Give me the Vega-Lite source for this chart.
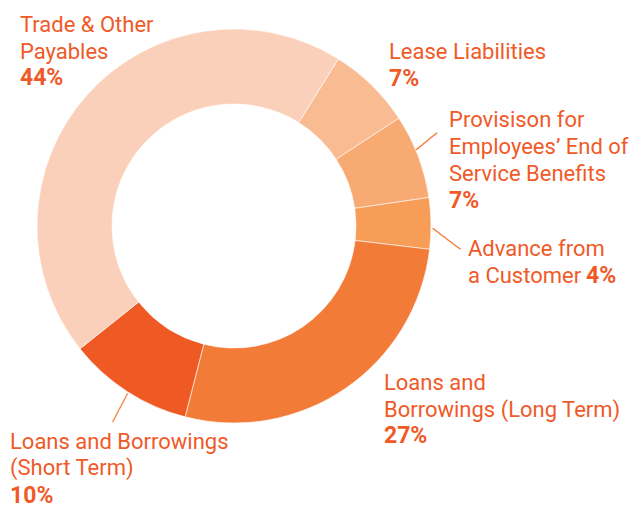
{
  "$schema": "https://vega.github.io/schema/vega-lite/v6.json",
  "width": 468,
  "height": 452,
  "autosize": {"type": "none"},
  "padding": {"left": 0, "top": 0, "right": 163, "bottom": 56},
  "background": "#ffffff",
  "view": {"stroke": null},
  "data": {
    "values": [
      {"order": 1, "category": "Lease", "label": "Lease Liabilities", "pct": "7%", "value": 6.9},
      {"order": 2, "category": "Provision", "label": "Provisison for\nEmployees’ End of\nService Benefits", "pct": "7%", "value": 6.9},
      {"order": 3, "category": "Advance", "label": "Advance from\na Customer", "pct": "4%", "value": 4.2},
      {"order": 4, "category": "LongTerm", "label": "Loans and\nBorrowings (Long Term)", "pct": "27%", "value": 27.1},
      {"order": 5, "category": "ShortTerm", "label": "Loans and Borrowings\n(Short Term)", "pct": "10%", "value": 10.3},
      {"order": 6, "category": "Trade", "label": "Trade & Other\nPayables", "pct": "44%", "value": 44.6}
    ]
  },
  "encoding": {
    "theta": {"field": "value", "type": "quantitative", "stack": true, "scale": {"range": [0.5585, 6.8417]}},
    "order": {"field": "order", "type": "quantitative"}
  },
  "layer": [
    {
      "mark": {"type": "arc", "innerRadius": 122, "outerRadius": 197, "stroke": "#ffffff", "strokeWidth": 0.6},
      "encoding": {
        "color": {
          "field": "category", "type": "nominal", "legend": null,
          "scale": {
            "domain": ["Lease", "Provision", "Advance", "LongTerm", "ShortTerm", "Trade"],
            "range": ["#F9BB91", "#F8AA73", "#F79D57", "#F37B38", "#EF5A24", "#FBD0BA"]
          }
        }
      }
    },
    {
      "mark": {"type": "text", "radius": 197, "align": "center", "baseline": "middle", "font": "DejaVu Sans Mono", "fontSize": 15, "angle": 321, "dx": 15.7, "dy": -6.2, "color": "#F37B38"},
      "encoding": {"text": {"condition": {"test": "datum.category === 'Provision'", "value": "───"}, "value": ""}}
    },
    {
      "mark": {"type": "text", "radius": 197, "align": "center", "baseline": "middle", "font": "DejaVu Sans Mono", "fontSize": 14.5, "angle": 36.9, "dx": 21.7, "dy": 3.9, "color": "#F37B38"},
      "encoding": {"text": {"condition": {"test": "datum.category === 'Advance'", "value": "────"}, "value": ""}}
    },
    {
      "mark": {"type": "text", "radius": 197, "align": "center", "baseline": "middle", "font": "DejaVu Sans Mono", "fontSize": 13.5, "angle": 117.3, "dx": 17.7, "dy": -0.7, "color": "#F37B38"},
      "encoding": {"text": {"condition": {"test": "datum.category === 'ShortTerm'", "value": "────"}, "value": ""}}
    },
    {
      "mark": {"type": "text", "radius": 197, "align": "left", "baseline": "alphabetic", "lineBreak": "\n", "lineHeight": 26.5, "font": "Roboto", "fontSize": 22, "dx": 17.1, "dy": -26.3, "color": "#EF5A28"},
      "encoding": {"text": {"condition": {"test": "datum.category === 'Lease'", "field": "label", "type": "nominal"}, "value": ""}}
    },
    {
      "mark": {"type": "text", "radius": 197, "align": "left", "baseline": "alphabetic", "font": "Roboto", "fontSize": 23, "fontWeight": "bold", "dx": 17.1, "dy": 0.7, "color": "#EF5A28"},
      "encoding": {"text": {"condition": {"test": "datum.category === 'Lease'", "field": "pct", "type": "nominal"}, "value": ""}}
    },
    {
      "mark": {"type": "text", "radius": 197, "align": "left", "baseline": "alphabetic", "lineBreak": "\n", "lineHeight": 26.8, "font": "Roboto", "fontSize": 22, "dx": 30.8, "dy": -29.2, "color": "#EF5A28"},
      "encoding": {"text": {"condition": {"test": "datum.category === 'Provision'", "field": "label", "type": "nominal"}, "value": ""}}
    },
    {
      "mark": {"type": "text", "radius": 197, "align": "left", "baseline": "alphabetic", "font": "Roboto", "fontSize": 23, "fontWeight": "bold", "dx": 30.8, "dy": 51.8, "color": "#EF5A28"},
      "encoding": {"text": {"condition": {"test": "datum.category === 'Provision'", "field": "pct", "type": "nominal"}, "value": ""}}
    },
    {
      "mark": {"type": "text", "radius": 197, "align": "left", "baseline": "alphabetic", "lineBreak": "\n", "lineHeight": 27, "font": "Roboto", "fontSize": 22, "dx": 37, "dy": 32.6, "color": "#EF5A28"},
      "encoding": {"text": {"condition": {"test": "datum.category === 'Advance'", "field": "label", "type": "nominal"}, "value": ""}}
    },
    {
      "mark": {"type": "text", "radius": 197, "align": "left", "baseline": "alphabetic", "font": "Roboto", "fontSize": 23, "fontWeight": "bold", "dx": 155, "dy": 59.6, "color": "#EF5A28"},
      "encoding": {"text": {"condition": {"test": "datum.category === 'Advance'", "field": "pct", "type": "nominal"}, "value": ""}}
    },
    {
      "mark": {"type": "text", "radius": 197, "align": "left", "baseline": "alphabetic", "lineBreak": "\n", "lineHeight": 27, "font": "Roboto", "fontSize": 22, "dx": 38.6, "dy": 1.5, "color": "#EF5A28"},
      "encoding": {"text": {"condition": {"test": "datum.category === 'LongTerm'", "field": "label", "type": "nominal"}, "value": ""}}
    },
    {
      "mark": {"type": "text", "radius": 197, "align": "left", "baseline": "alphabetic", "font": "Roboto", "fontSize": 23, "fontWeight": "bold", "dx": 38.6, "dy": 54.5, "color": "#EF5A28"},
      "encoding": {"text": {"condition": {"test": "datum.category === 'LongTerm'", "field": "pct", "type": "nominal"}, "value": ""}}
    },
    {
      "mark": {"type": "text", "radius": 197, "align": "left", "baseline": "alphabetic", "lineBreak": "\n", "lineHeight": 26, "font": "Roboto", "fontSize": 22, "dx": -117, "dy": 57.6, "color": "#EF5A28"},
      "encoding": {"text": {"condition": {"test": "datum.category === 'ShortTerm'", "field": "label", "type": "nominal"}, "value": ""}}
    },
    {
      "mark": {"type": "text", "radius": 197, "align": "left", "baseline": "alphabetic", "font": "Roboto", "fontSize": 23, "fontWeight": "bold", "dx": -117, "dy": 111.1, "color": "#EF5A28"},
      "encoding": {"text": {"condition": {"test": "datum.category === 'ShortTerm'", "field": "pct", "type": "nominal"}, "value": ""}}
    },
    {
      "mark": {"type": "text", "radius": 197, "align": "left", "baseline": "alphabetic", "lineBreak": "\n", "lineHeight": 26.5, "font": "Roboto", "fontSize": 22, "dx": -67, "dy": -62.8, "color": "#EF5A28"},
      "encoding": {"text": {"condition": {"test": "datum.category === 'Trade'", "field": "label", "type": "nominal"}, "value": ""}}
    },
    {
      "mark": {"type": "text", "radius": 197, "align": "left", "baseline": "alphabetic", "font": "Roboto", "fontSize": 23, "fontWeight": "bold", "dx": -67, "dy": -9.8, "color": "#EF5A28"},
      "encoding": {"text": {"condition": {"test": "datum.category === 'Trade'", "field": "pct", "type": "nominal"}, "value": ""}}
    }
  ]
}
